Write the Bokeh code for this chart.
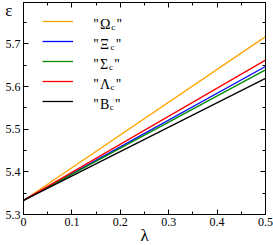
from bokeh.plotting import figure
from bokeh.models import (Range1d, FixedTicker, LinearAxis, Legend, LegendItem, Label)
from bokeh.embed import file_html
from bokeh.resources import INLINE

# data
lam = [0.0, 0.5]
omega_c = [5.333, 5.717]
xi_c = [5.333, 5.647]
sigma_c = [5.333, 5.639]
lambda_c = [5.333, 5.662]
b_c = [5.333, 5.619]

names = ["Ω", "Ξ", "Σ", "Λ", "B"]
series = [omega_c, xi_c, sigma_c, lambda_c, b_c]
colors = ["#FFA500", "#0000FF", "#008C00", "#FF0000", "#000000"]

x_ticks = [0.0, 0.1, 0.2, 0.3, 0.4, 0.5]
x_minor = [0.05, 0.15, 0.25, 0.35, 0.45]
y_ticks = [5.3, 5.4, 5.5, 5.6, 5.7]
y_minor = [5.35, 5.45, 5.55, 5.65, 5.75]

FW, FH = 242, 212
p = figure(frame_width=FW, frame_height=FH, output_backend="svg", toolbar_location=None,
           x_range=Range1d(0, 0.5), y_range=Range1d(5.3, 5.797),
           min_border_left=23, min_border_right=8, min_border_top=2, min_border_bottom=31)
p.background_fill_color = "white"
p.border_fill_color = "white"
p.grid.visible = False
p.outline_line_color = "black"

font = "Liberation Serif"

def style_axis(ax, labels=True):
    ax.major_tick_in = 5
    ax.major_tick_out = 0
    ax.minor_tick_in = 3
    ax.minor_tick_out = 0
    ax.axis_line_color = "black"
    ax.major_tick_line_color = "black"
    ax.minor_tick_line_color = "black"
    ax.major_label_text_font = font
    ax.major_label_text_font_size = "12px"
    ax.major_label_text_color = "black"
    ax.major_label_standoff = 3
    if not labels:
        ax.major_label_text_alpha = 0
        ax.major_label_text_font_size = "1px"

p.xaxis.ticker = FixedTicker(ticks=x_ticks, minor_ticks=x_minor)
p.yaxis.ticker = FixedTicker(ticks=y_ticks, minor_ticks=y_minor)
style_axis(p.xaxis[0])
style_axis(p.yaxis[0])
p.xaxis.axis_label = "λ"
p.xaxis.axis_label_text_font = font
p.xaxis.axis_label_text_font_size = "17px"
p.xaxis.axis_label_text_font_style = "normal"
p.xaxis.axis_label_text_color = "black"
p.xaxis.axis_label_standoff = -3

top = LinearAxis(ticker=FixedTicker(ticks=x_ticks, minor_ticks=x_minor))
right = LinearAxis(ticker=FixedTicker(ticks=y_ticks, minor_ticks=y_minor))
style_axis(top, labels=False)
style_axis(right, labels=False)
p.add_layout(top, "above")
p.add_layout(right, "right")

# epsilon label: an axis without ticks; blank lines below push the symbol to the top
eps = LinearAxis(ticker=FixedTicker(ticks=[]), axis_label="ε" + "\n\u00a0" * 9,
                 axis_label_orientation="horizontal", axis_label_standoff=-10,
                 axis_label_text_font=font, axis_label_text_font_size="17px",
                 axis_label_text_line_height=1.15,
                 axis_label_text_font_style="normal", axis_label_text_color="black",
                 axis_line_alpha=0, major_tick_in=0, major_tick_out=0,
                 minor_tick_in=0, minor_tick_out=0)
p.add_layout(eps, "left")

renderers = []
for s, c in zip(series, colors):
    r = p.line(lam, s, line_color=c, line_width=1.3)
    renderers.append(r)

items = [LegendItem(label=" ", renderers=[r]) for r in renderers]
legend = Legend(items=items, location=(19, FH - 9 - 100), glyph_width=31, glyph_height=20,
                label_height=20, label_width=0, spacing=0, padding=0, margin=0,
                label_standoff=0, border_line_alpha=0, background_fill_alpha=0,
                label_text_font_size="1px")
p.add_layout(legend, "center")

# legend texts with subscript c
widths = {"Ω": 10.8, "Ξ": 10.1, "Σ": 8.6, "Λ": 10.1, "B": 9.3}
x0 = 70
for i, n in enumerate(names):
    yb = FH - 21.5 - 20 * i
    xl = x0 + 6.5
    xc = xl + widths[n] + 0.5
    xq = xc + 5.5
    for txt, xx, yy, fs in [("''", x0, yb, "14px"), (n, xl, yb, "14px"),
                            ("c", xc, yb - 3, "9px"), ("''", xq, yb, "14px")]:
        p.add_layout(Label(x=xx, y=yy, x_units="screen", y_units="screen", text=txt,
                           text_font=font, text_font_size=fs, text_baseline="alphabetic",
                           text_align="left", text_color="black"))

open("out.html", "w").write(file_html(p, INLINE))
